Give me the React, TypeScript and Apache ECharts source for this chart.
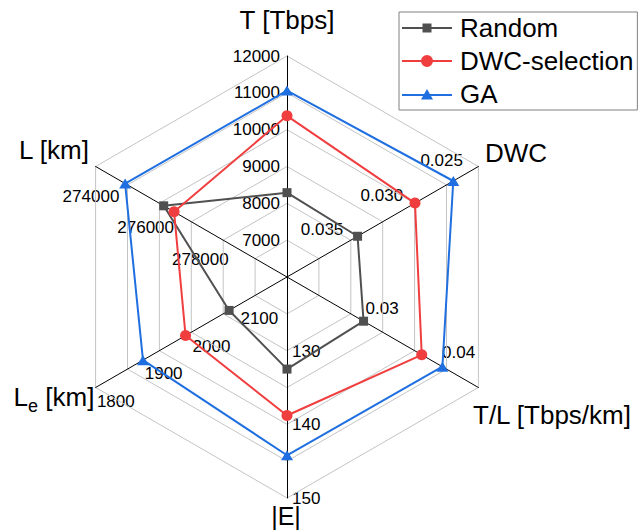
import React, { useEffect, useRef } from 'react';
import * as echarts from 'echarts';

// ---- data ----
const indicatorNames = ['T [Tbps]', 'L [km]', 'Le [km]', '|E|', 'T/L [Tbps/km]', 'DWC'];
// value at the centre of each axis and value at the outer ring
const axisInner = [6000, 280000, 2200, 120, 0.02, 0.04];
const axisOuter = [12000, 273000, 1800, 150, 0.045, 0.024];
const axisTickLabels = [
  ['7000', '8000', '9000', '10000', '11000', '12000'],
  ['274000', '276000', '278000'],
  ['2100', '2000', '1900', '1800'],
  ['130', '140', '150'],
  ['0.03', '0.04'],
  ['0.035', '0.030', '0.025'],
];
const seriesNames = ['Random', 'DWC-selection', 'GA'];
const randomValues = [8290, 275490, 2079, 132.5, 0.03, 0.0341];
const dwcSelectionValues = [10375, 275870, 1988, 138.8, 0.0376, 0.0293];
const gaValues = [11060, 274080, 1899, 144.2, 0.0403, 0.0261];

// ---- layout / style ----
const FONT = '"Liberation Sans", Arial, Helvetica, sans-serif';
const CX = 287;
const CY = 277;
const R = 221;
const LEVELS = 6;
const axisAngles = [90, 150, 210, 270, 330, 30];
const tickPlacement = [
  { align: 'right', dx: -7, dy: 0 },
  { align: 'right', dx: -3.6, dy: 14 },
  { align: 'left', dx: 1.3, dy: 14 },
  { align: 'left', dx: 5, dy: 0.5 },
  { align: 'left', dx: 2, dy: -12.8 },
  { align: 'right', dx: -3.5, dy: -12.8 },
];
const namePlacement = [
  [287, 20, 26],
  [54, 150, 26],
  [54, 399, 26],
  [286, 516, 25],
  [552, 415, 26],
  [516, 153, 26],
];
const colors = ['#505050', '#F03E3E', '#1F6FE0'];
const symbols = ['rect', 'circle', 'triangle'];
const symbolSizes: any[] = [9, 11, [12, 10]];
const legendIcons = [
  'path://M0,5 L50,5 L50,7 L0,7 Z M20.5,1.5 L29.5,1.5 L29.5,10.5 L20.5,10.5 Z M0,0 L0.01,0 L0.01,12 L0,12 Z',
  'path://M0,5 L50,5 L50,7 L0,7 Z M31,6 A6,6 0 1 1 19,6 A6,6 0 1 1 31,6 Z',
  'path://M0,6 L50,6 L50,8 L0,8 Z M25,1 L31,11.5 L19,11.5 Z M0,0 L0.01,0 L0.01,12 L0,12 Z',
];

function toLevel(i: number, v: number) {
  return ((v - axisInner[i]) / (axisOuter[i] - axisInner[i])) * LEVELS;
}

export default function App() {
  const ref = useRef<HTMLDivElement>(null);
  useEffect(() => {
    if (!ref.current) return;
    const chart = echarts.init(ref.current, undefined, { renderer: 'svg' });
    const allValues = [randomValues, dwcSelectionValues, gaValues];

    const graphics: any[] = [];
    axisTickLabels.forEach((labels, i) => {
      const a = (axisAngles[i] * Math.PI) / 180;
      const p = tickPlacement[i];
      labels.forEach((t) => {
        const r = (toLevel(i, parseFloat(t)) * R) / LEVELS;
        graphics.push({
          type: 'text',
          x: CX + r * Math.cos(a) + p.dx,
          y: CY - r * Math.sin(a) + p.dy,
          style: {
            text: t,
            fill: '#000',
            fontSize: 17,
            lineHeight: 17,
            fontFamily: FONT,
            align: p.align,
            verticalAlign: 'middle',
          },
        });
      });
    });
    indicatorNames.forEach((n, i) => {
      const [x, y, fs] = namePlacement[i];
      const isSub = n === 'Le [km]';
      graphics.push({
        type: 'text',
        x,
        y,
        style: isSub
          ? {
              text: '{m|L}{s|e}{m| [km]}',
              fill: '#000',
              fontSize: fs,
              fontFamily: FONT,
              align: 'center',
              verticalAlign: 'middle',
              rich: {
                m: { fontSize: fs, fontFamily: FONT, fill: '#000', verticalAlign: 'bottom', padding: [0, 0, 5, 0] },
                s: { fontSize: 18, fontFamily: FONT, fill: '#000', verticalAlign: 'bottom' },
              },
            }
          : {
              text: n,
              fill: '#000',
              fontSize: fs,
              lineHeight: 22,
              fontFamily: FONT,
              align: 'center',
              verticalAlign: 'middle',
            },
      });
    });

    chart.setOption({
      animation: false,
      backgroundColor: '#fff',
      legend: {
        orient: 'vertical',
        left: 399,
        top: 12,
        padding: [3, 4, 3, 3],
        itemGap: 7,
        itemWidth: 50,
        itemHeight: 12,
        borderColor: '#808080',
        borderWidth: 1,
        backgroundColor: '#fff',
        textStyle: { fontSize: 26, lineHeight: 26, fontFamily: FONT, color: '#000', padding: [0, 0, 0, 3] },
        data: seriesNames.map((n, k) => ({
          name: n,
          icon: legendIcons[k],
          itemStyle: { color: colors[k], borderWidth: 0 },
        })),
      },
      radar: {
        center: [CX, CY],
        radius: R,
        startAngle: 90,
        splitNumber: LEVELS,
        shape: 'polygon',
        indicator: indicatorNames.map((n) => ({ name: n, min: 0, max: LEVELS })),
        axisName: { show: false },
        axisLine: { lineStyle: { color: '#000', width: 1 } },
        splitLine: { lineStyle: { color: '#c4c4c4', width: 1 } },
        splitArea: { show: false },
        axisTick: { show: false },
        axisLabel: { show: false },
      },
      series: [
        {
          type: 'radar',
          data: seriesNames.map((n, k) => ({
            name: n,
            value: allValues[k].map((v, i) => toLevel(i, v)),
            symbol: symbols[k],
            symbolSize: symbolSizes[k],
            lineStyle: { color: colors[k], width: 2 },
            itemStyle: { color: colors[k] },
          })),
        },
      ],
      graphic: graphics,
    });
    return () => chart.dispose();
  }, []);
  return (
    <div
      ref={ref}
      style={{ position: 'fixed', left: 0, top: 0, width: 644, height: 531 }}
    />
  );
}
